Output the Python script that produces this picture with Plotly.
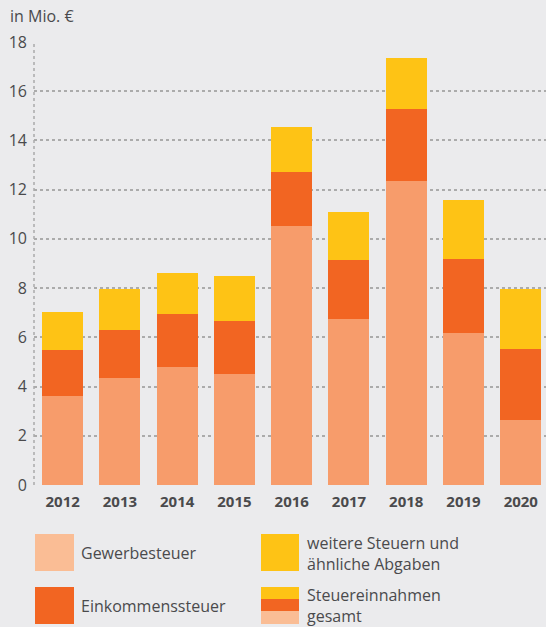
import plotly.graph_objects as go

years = ["2012", "2013", "2014", "2015", "2016", "2017", "2018", "2019", "2020"]
gewerbesteuer = [3.62, 4.35, 4.80, 4.51, 10.53, 6.75, 12.36, 6.18, 2.64]
einkommensteuer = [1.87, 1.95, 2.15, 2.16, 2.19, 2.40, 2.92, 3.01, 2.89]
weitere = [1.54, 1.67, 1.67, 1.83, 1.83, 1.95, 2.08, 2.40, 2.44]
y_ticks = [0, 2, 4, 6, 8, 10, 12, 14, 16, 18]

C_GEW = "#F79C6B"
C_GEW_LEG = "#FABD95"
C_EIN = "#F26522"
C_WEI = "#FEC315"
BG = "#EBEBED"
TXT = "#4A4A4C"
GRID = "#ABABAB"
FONT = "Open Sans"

W, H = 546, 627
L, R, T, B = 34, 0, 42, 142
pw, ph = W - L - R, H - T - B

def px(x):
    return (x - L) / pw

def py(y):
    return (H - B - y) / ph

fig = go.Figure()
for name, vals, col in [("Gewerbesteuer", gewerbesteuer, C_GEW),
                        ("Einkommensteuer", einkommensteuer, C_EIN),
                        ("weitere Steuern und ähnliche Abgaben", weitere, C_WEI)]:
    fig.add_trace(go.Bar(x=years, y=vals, name=name, marker=dict(color=col, line=dict(width=0)),
                         showlegend=False, hoverinfo="y+name"))

shapes = []
shapes.append(dict(type="line", xref="paper", yref="paper", x0=0, x1=0, y0=0, y1=1,
                   line=dict(color=GRID, width=1.5, dash="dot"), layer="below"))

def rect(x0, y0, x1, y1, col):
    shapes.append(dict(type="rect", xref="paper", yref="paper", x0=px(x0), x1=px(x1),
                       y0=py(y1), y1=py(y0), fillcolor=col, line=dict(width=0)))

rect(35, 534, 74, 571, C_GEW_LEG)
rect(35, 587, 74, 624, C_EIN)
rect(261, 534, 299, 571, C_WEI)
rect(261, 587, 299, 599, C_WEI)
rect(261, 599, 299, 611, C_EIN)
rect(261, 611, 299, 624, C_GEW_LEG)

annotations = []
def label(x, y, text):
    annotations.append(dict(xref="paper", yref="paper", x=px(x), y=py(y), text=text,
                            showarrow=False, xanchor="left", yanchor="middle", align="left",
                            font=dict(family=FONT, size=16, color=TXT)))

label(79, 553, "Gewerbesteuer")
label(79, 606, "Einkommenssteuer")
label(305, 553, "weitere Steuern und<br>ähnliche Abgaben")
label(305, 605, "Steuereinnahmen<br>gesamt")
annotations.append(dict(xref="paper", yref="paper", x=px(8), y=py(16), text="in Mio. €",
                        showarrow=False, xanchor="left", yanchor="middle",
                        font=dict(family=FONT, size=16, color=TXT)))

fig.update_layout(
    width=W, height=H,
    margin=dict(l=L, r=R, t=T, b=B, pad=0),
    paper_bgcolor=BG, plot_bgcolor=BG,
    barmode="stack", bargap=0.284,
    font=dict(family=FONT, color=TXT, size=16),
    shapes=shapes, annotations=annotations,
    xaxis=dict(range=[-0.5, 8.44], showgrid=False, zeroline=False, showline=False,
               ticks="", tickfont=dict(family=FONT, size=15, color=TXT, weight="bold"),
               ticklabelstandoff=6, fixedrange=True),
    yaxis=dict(range=[0, 18], tickvals=y_ticks, showgrid=True, gridcolor=GRID, gridwidth=1.5,
               griddash="dot", zeroline=False, showline=False, ticks="",
               tickfont=dict(family=FONT, size=16, color=TXT), ticklabelstandoff=6,
               fixedrange=True),
)

fig.write_html("out.html", config={"displayModeBar": False},
               post_script="document.body.style.margin='0';document.body.style.overflow='hidden';")
